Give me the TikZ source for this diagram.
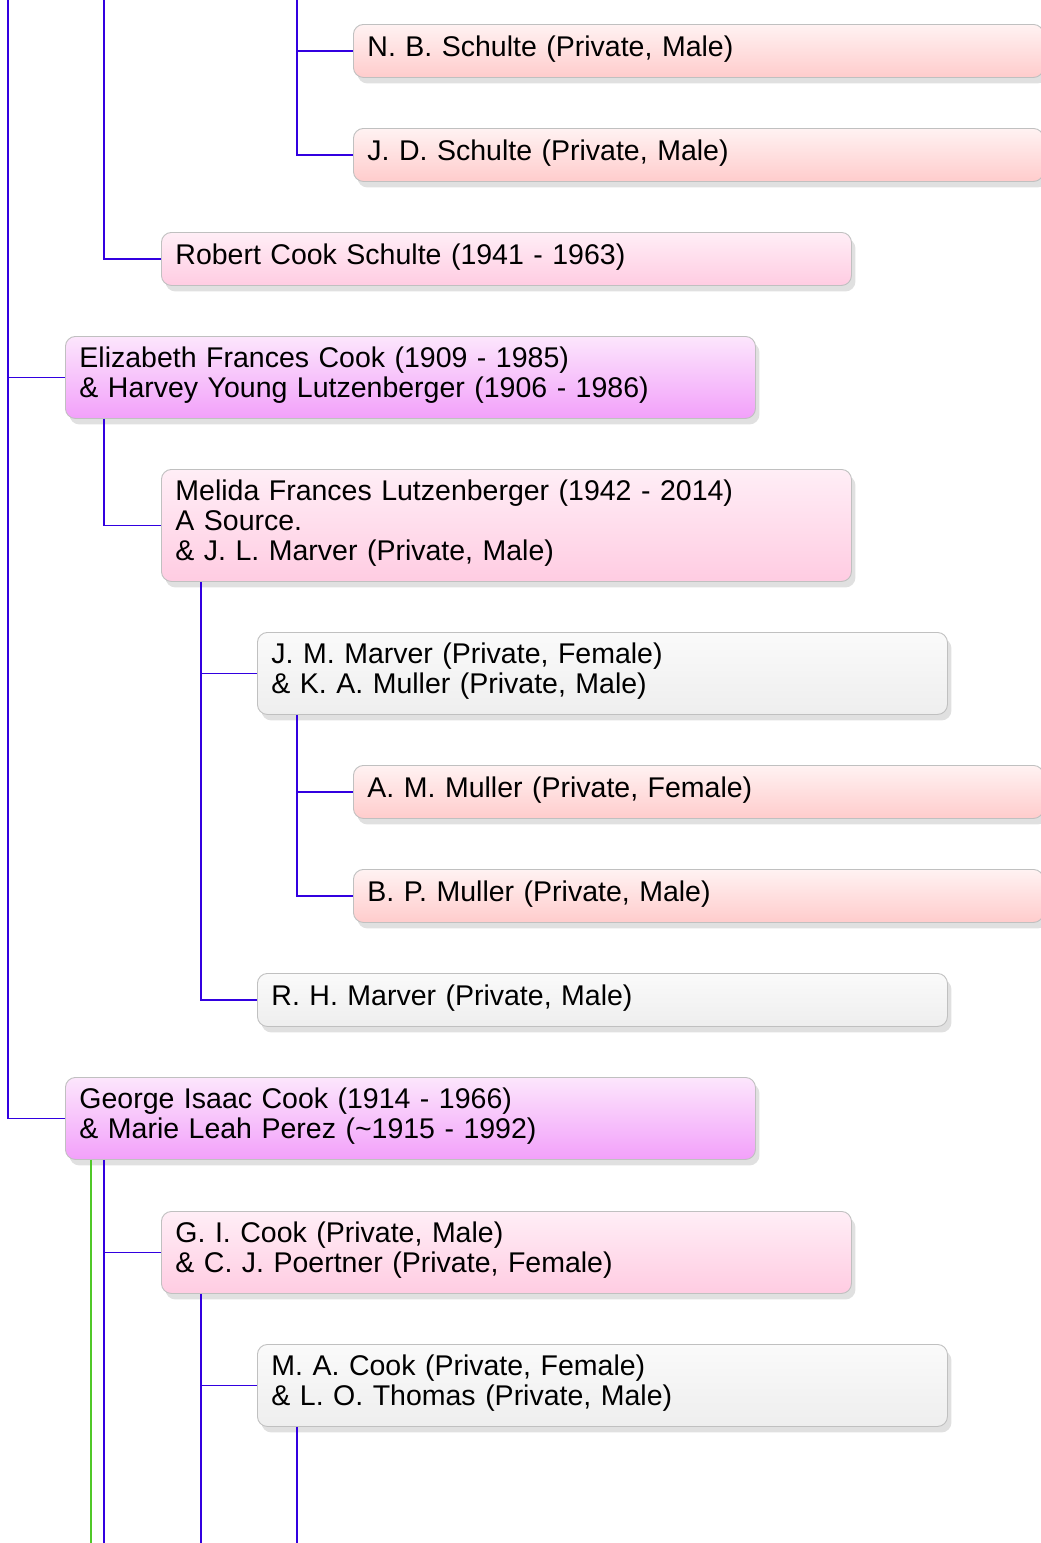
\documentclass[tikz,border=0pt]{standalone}
\usepackage{fontspec}
\setmainfont[WordSpace=1.4]{Liberation Sans}
\usepackage{tikz}
\usetikzlibrary{shadows}

\definecolor{linkblue}{RGB}{50,0,224}
\definecolor{linkgreen}{RGB}{80,200,40}
\definecolor{boxborder}{RGB}{192,192,192}

\begin{document}
\begin{tikzpicture}[x=1pt, y=-1pt,
        person/.style={draw=boxborder, line width=0.9pt, rounded corners=10pt, anchor=north west,
            minimum width=690pt, inner xsep=14pt, inner ysep=0pt, text width=662pt, align=left,
            font=\fontsize{28.5}{30}\selectfont, execute at end node={\rule[-10pt]{0pt}{10pt}},
            drop shadow={shadow xshift=4pt, shadow yshift=-6pt, opacity=0.2, fill=black!60}},
        malebox/.style={person, top color={rgb,255:red,255;green,242;blue,242}, bottom color={rgb,255:red,255;green,204;blue,204}},
        pinkbox/.style={person, top color={rgb,255:red,255;green,238;blue,246}, bottom color={rgb,255:red,255;green,204;blue,226}},
        violetbox/.style={person, top color={rgb,255:red,252;green,230;blue,252}, bottom color={rgb,255:red,242;green,160;blue,250}},
        graybox/.style={person, top color={rgb,255:red,250;green,250;blue,250}, bottom color={rgb,255:red,238;green,238;blue,238}},
        oneline/.style={minimum height=53pt},
        twoline/.style={minimum height=82pt},
        link/.style={draw=linkblue, line width=1.3pt},
        greenlink/.style={draw=linkgreen, line width=1.1pt}]
        \useasboundingbox[fill=white] (0,0) rectangle (1041,1543);

        % free ends at the top and bottom edge
        \coordinate (topa) at (8,0);
        \coordinate (topb) at (104,0);
        \coordinate (topc) at (297,0);
        \coordinate (bota) at (91,1543);
        \coordinate (botb) at (104,1543);
        \coordinate (botc) at (201,1543);
        \coordinate (botd) at (297,1543);

        % people
        \node[malebox, oneline] (nbs) at (353,24) {N. B. Schulte (Private, Male)};
        \node[malebox, oneline] (jds) at (353,128) {J. D. Schulte (Private, Male)};
        \node[pinkbox, oneline] (rcs) at (161,232) {Robert Cook Schulte (1941 - 1963)};
        \node[violetbox, twoline] (efc) at (65,336) {Elizabeth Frances Cook (1909 - 1985)\\\& Harvey Young Lutzenberger (1906 - 1986)};
        \node[pinkbox, minimum height=112pt] (mfl) at (161,469) {Melida Frances Lutzenberger (1942 - 2014)\\A Source.\\\& J. L. Marver (Private, Male)};
        \node[graybox, twoline] (jmm) at (257,632) {J. M. Marver (Private, Female)\\\& K. A. Muller (Private, Male)};
        \node[malebox, oneline] (amm) at (353,765) {A. M. Muller (Private, Female)};
        \node[malebox, oneline] (bpm) at (353,869) {B. P. Muller (Private, Male)};
        \node[graybox, oneline] (rhm) at (257,973) {R. H. Marver (Private, Male)};
        \node[violetbox, twoline] (gic) at (65,1077) {George Isaac Cook (1914 - 1966)\\\& Marie Leah Perez (\textasciitilde1915 - 1992)};
        \node[pinkbox, twoline] (gicp) at (161,1211) {G. I. Cook (Private, Male)\\\& C. J. Poertner (Private, Female)};
        \node[graybox, twoline] (mac) at (257,1344) {M. A. Cook (Private, Female)\\\& L. O. Thomas (Private, Male)};

        % links
        \draw[link] (topa) |- (gic.west);
        \draw[link] (topa |- efc.west) -- (efc.west);
        \draw[link] (topb) |- (rcs.west);
        \draw[link] (topc) |- (jds.west);
        \draw[link] (topc |- nbs.west) -- (nbs.west);

        \draw[link] ([xshift=39pt]efc.south west) |- (mfl.west);
        \draw[link] ([xshift=40pt]mfl.south west) |- (rhm.west);
        \draw[link] ([xshift=40pt]mfl.south west |- jmm.west) -- (jmm.west);
        \draw[link] ([xshift=40pt]jmm.south west) |- (bpm.west);
        \draw[link] ([xshift=40pt]jmm.south west |- amm.west) -- (amm.west);

        \draw[greenlink] (gic.south west -| bota) -- (bota);
        \draw[link] (gic.south west -| botb) -- (botb);
        \draw[link] (botb |- gicp.west) -- (gicp.west);
        \draw[link] (gicp.south west -| botc) -- (botc);
        \draw[link] (botc |- mac.west) -- (mac.west);
        \draw[link] (mac.south west -| botd) -- (botd);
    \end{tikzpicture}
\end{document}
